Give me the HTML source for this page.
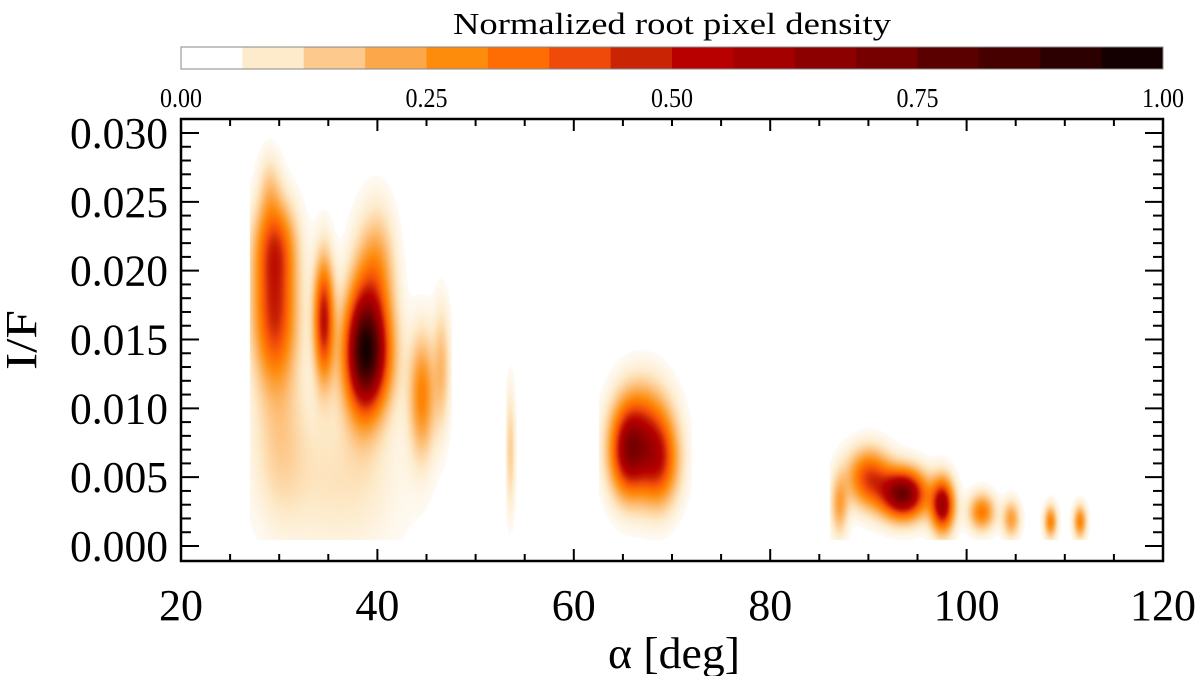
<!DOCTYPE html>
<html><head><meta charset="utf-8"><style>
body{margin:0;background:#fff;}
svg text{font-family:"Liberation Serif",serif;fill:#000;}
</style></head><body>
<svg id="chart" width="1200" height="676" viewBox="0 0 1200 676" xmlns="http://www.w3.org/2000/svg">
<text x="672" y="34" font-size="31" text-anchor="middle" textLength="438" lengthAdjust="spacingAndGlyphs">Normalized root pixel density</text>
<g id="cbar"></g>
<g id="cbarTicks"></g>
<foreignObject x="181" y="119" width="982" height="442">
<canvas id="heat" width="982" height="442" xmlns="http://www.w3.org/1999/xhtml" style="display:block"></canvas>
</foreignObject>
<rect x="181" y="119" width="982" height="442" fill="none" stroke="#000" stroke-width="2.5"/>
<g id="axes"></g>
<text x="36" y="340" font-size="44" text-anchor="middle" transform="rotate(-90 36 340)" textLength="60" lengthAdjust="spacingAndGlyphs">I/F</text>
<text x="674" y="668" font-size="44" text-anchor="middle" textLength="132" lengthAdjust="spacingAndGlyphs">α [deg]</text>
</svg>
<script>
const cmapColors=["#ffffff","#fdebcb","#fdc98c","#fca84a","#fd8b0c","#fe6c04","#f04a0a","#c92404","#b80000","#a40000","#8c0000","#760000","#5a0000","#460000","#2c0000","#140000"];
const cbarTickValues=[0,0.25,0.5,0.75,1];
const cbarTickLabels=["0.00","0.25","0.50","0.75","1.00"];
const xTicks=[20,40,60,80,100,120];
const yTicks=[0,0.005,0.010,0.015,0.020,0.025,0.030];
const yTickLabels=["0.000","0.005","0.010","0.015","0.020","0.025","0.030"];
// density blobs: centre alpha, centre I/F, sigma alpha, sigma I/F, peak
const blobAlpha=[29.5,29.5,34.5,39,38.5,44.5,46.5,53.5,36,30,65.5,68.5,67,93.5,97.5,90,87,101.5,104.5,108.5,111.5,29,40];
const blobIF=[0.0170,0.022,0.0165,0.0140,0.0150,0.0110,0.0130,0.0070,0.0050,0.0080,0.0068,0.0062,0.0090,0.0038,0.0030,0.0050,0.0030,0.0025,0.0020,0.0018,0.0018,0.026,0.020];
const blobSA=[1.5,1.4,0.7,1.6,1.2,0.9,0.6,0.35,4.5,1.8,1.3,1.4,1.8,1.6,0.8,1.5,0.6,0.9,0.6,0.45,0.45,0.8,1.2];
const blobSI=[0.0035,0.0022,0.003,0.0028,0.004,0.003,0.003,0.003,0.004,0.004,0.0022,0.0022,0.0022,0.0012,0.0013,0.0014,0.0015,0.0009,0.0009,0.0008,0.0008,0.0018,0.003];
const blobPeak=[0.45,0.3,0.5,0.7,0.3,0.28,0.15,0.12,0.08,0.1,0.55,0.45,0.25,0.75,0.6,0.4,0.2,0.3,0.22,0.28,0.28,0.1,0.2];
// observed phase-angle coverage ranges (no data outside)
const covStart=[27,53,62.5,86];
const covEnd=[47.5,54.2,72,112.5];

const X0=181,X1=1163,Y0=546,Y1=133;
const xs=a=>X0+(a-20)/100*(X1-X0);
const ys=v=>Y0+(v-0)/0.030*(Y1-Y0);
const NS="http://www.w3.org/2000/svg";
function mk(tag,attrs,parent){const e=document.createElementNS(NS,tag);for(const k in attrs)e.setAttribute(k,attrs[k]);parent.appendChild(e);return e;}
function hex(c){return [1,3,5].map(i=>parseInt(c.substr(i,2),16));}
function cmap(v){v=Math.max(0,Math.min(1,v));const n=cmapColors.length-1;const p=v*n;const i=Math.min(n-1,Math.floor(p));const t=p-i;const a=hex(cmapColors[i]),b=hex(cmapColors[i+1]);return a.map((x,k)=>Math.round(x+(b[k]-x)*t));}

// colorbar
const cb=document.getElementById('cbar');
const segW=(X1-X0)/cmapColors.length;
cmapColors.forEach((c,i)=>{
 const r=mk('rect',{x:X0+i*segW,y:47,width:segW+0.5,height:22,fill:c},cb);
 
 
});
const cf=mk('rect',{x:X0,y:47,width:X1-X0,height:22,fill:'none',stroke:'#888','stroke-width':1},cb);


const ct=document.getElementById('cbarTicks');
cbarTickValues.forEach((v,i)=>{
 const t=mk('text',{x:X0+v*(X1-X0),y:107,'font-size':27,'text-anchor':'middle',textLength:42,lengthAdjust:'spacingAndGlyphs'},ct);
 t.textContent=cbarTickLabels[i];
 
 
});

// heatmap
const cv=document.getElementById('heat');const ctx=cv.getContext('2d');
const img=ctx.createImageData(982,442);
for(let py=0;py<442;py++){
 const yy=119+py;const v=(yy-Y0)/(Y1-Y0)*0.030;
 for(let px=0;px<982;px++){
  const a=20+(px)/(X1-X0)*100;
  let d=0;
  let inCov=false;for(let c=0;c<covStart.length;c++)if(a>=covStart[c]&&a<=covEnd[c])inCov=true;
  if(v>=0.0005&&inCov){
   for(let k=0;k<blobAlpha.length;k++){
    const dx=(a-blobAlpha[k])/blobSA[k],dy=(v-blobIF[k])/blobSI[k];
    const e=dx*dx+dy*dy; if(e<20) d+=blobPeak[k]*Math.exp(-0.5*e);
   }
  }
  if(d<0.015)d=0;
  const c=cmap(Math.min(1,d));const o=(py*982+px)*4;
  img.data[o]=c[0];img.data[o+1]=c[1];img.data[o+2]=c[2];img.data[o+3]=255;
 }
}
ctx.putImageData(img,0,0);

// axes
const ax=document.getElementById('axes');
for(let a=20;a<=120;a+=5){
 const maj=a%20===0,L=maj?12:7,x=xs(a);
 const t1=mk('line',{x1:x,y1:561,x2:x,y2:561-L,stroke:'#000','stroke-width':2},ax);
 
 
 const t2=mk('line',{x1:x,y1:119,x2:x,y2:119+L,stroke:'#000','stroke-width':2},ax);
 
 
}
xTicks.forEach(a=>{
 const t=mk('text',{x:xs(a),y:620,'font-size':44,'text-anchor':'middle',textLength:String(a).length*22,lengthAdjust:'spacingAndGlyphs'},ax);
 t.textContent=a;
 
 
});
for(let i=0;i<=30;i++){
 const v=i*0.001,maj=i%5===0,L=maj?18:10,y=ys(v);
 const t1=mk('line',{x1:181,y1:y,x2:181+L,y2:y,stroke:'#000','stroke-width':2},ax);
 
 
 const t2=mk('line',{x1:1163,y1:y,x2:1163-L,y2:y,stroke:'#000','stroke-width':2},ax);
 
 
}
yTicks.forEach((v,i)=>{
 const t=mk('text',{x:168,y:ys(v)+15,'font-size':44,'text-anchor':'end',textLength:98,lengthAdjust:'spacingAndGlyphs'},ax);
 t.textContent=yTickLabels[i];
 
 
});
</script>
</body></html>
